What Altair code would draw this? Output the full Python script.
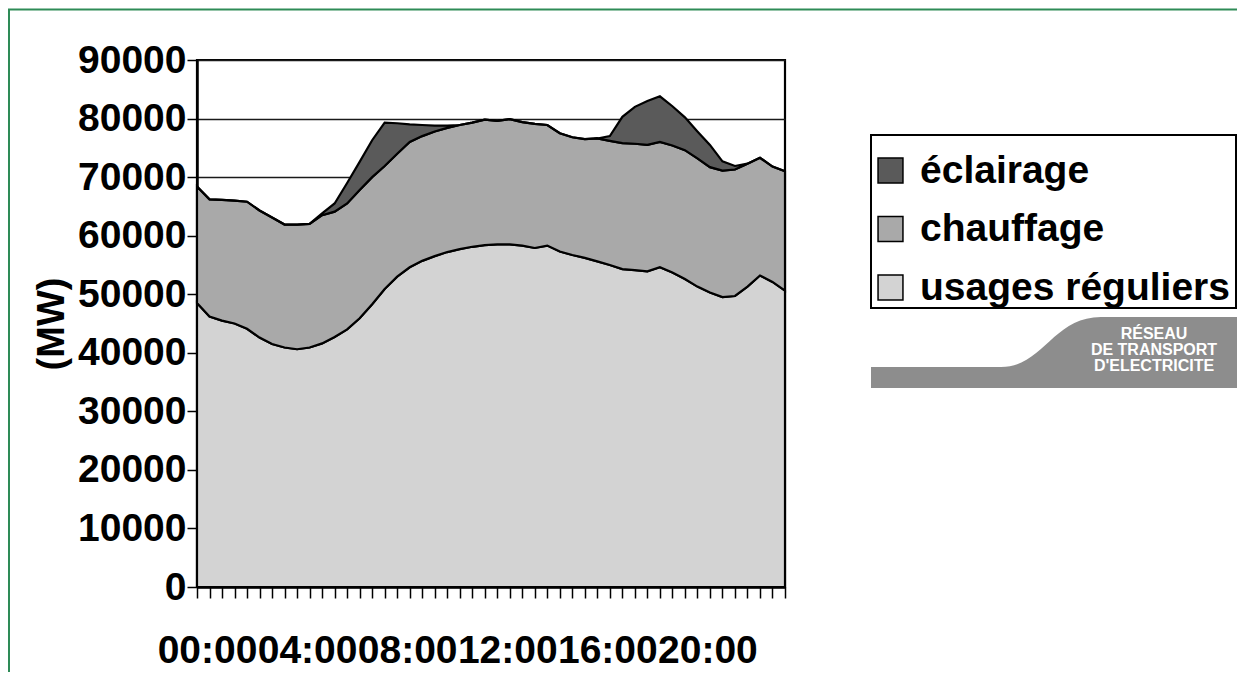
import base64
import altair as alt
import pandas as pd

# ---- data ----
hours = [i * 0.5 for i in range(48)]  # 00:00 .. 23:30, every half hour

usages = [48500, 46200, 45500, 45000, 44100, 42600, 41500, 40900, 40600, 40900,
          41600, 42700, 44000, 45900, 48300, 50900, 53000, 54600, 55700, 56500,
          57200, 57700, 58100, 58400, 58500, 58500, 58300, 57900, 58300, 57300,
          56700, 56200, 55600, 55000, 54300, 54100, 53900, 54600, 53700, 52600,
          51300, 50300, 49500, 49700, 51300, 53200, 52100, 50600]

chauffage = [19900, 20000, 20600, 21000, 21700, 21700, 21600, 21000, 21300, 21100,
             21900, 21400, 21500, 21900, 21700, 21000, 21000, 21400, 21300, 21300,
             21200, 21200, 21200, 21400, 21100, 21400, 21100, 21200, 20600, 20200,
             20100, 20300, 21000, 21200, 21500, 21600, 21600, 21400, 21700, 22000,
             21900, 21400, 21600, 21600, 21000, 20100, 19700, 20400]

eclairage = [0, 0, 0, 0, 0, 0, 0, 0, 0, 0,
             300, 1400, 3500, 4800, 6300, 7400, 5200, 3000, 1900, 1000,
             400, 0, 0, 0, 0, 0, 0, 0, 0, 0,
             0, 0, 0, 800, 4500, 6300, 7500, 7800, 6700, 5600,
             4600, 3800, 1600, 600, 0, 0, 0, 0]

series_names = ["éclairage", "chauffage", "usages réguliers"]
series_colors = ["#5a5a5a", "#a9a9a9", "#d3d3d3"]
stack_rank = {"usages réguliers": 0, "chauffage": 1, "éclairage": 2}
y_ticks = [0, 10000, 20000, 30000, 40000, 50000, 60000, 70000, 80000, 90000]
logo_lines = ["RÉSEAU", "DE TRANSPORT", "D'ELECTRICITE"]

rows = []
for h, u, c, e in zip(hours, usages, chauffage, eclairage):
    for name, v in (("usages réguliers", u), ("chauffage", c), ("éclairage", e)):
        rows.append({"h": h, "serie": name, "mw": v, "rank": stack_rank[name]})
df = pd.DataFrame(rows)

FONT = "Liberation Sans"
W, H = 588, 527
PAD = {"left": 189, "top": 52, "right": 452, "bottom": 85}

x_label_expr = ("datum.value % 4 === 0 ? (datum.value < 10 ? '0' : '') + "
                "datum.value + ':00' : ''")

area = alt.Chart(df).mark_area(
    stroke="black", strokeWidth=2.2, interpolate="linear", fillOpacity=1
).encode(
    x=alt.X("h:Q",
            scale=alt.Scale(domain=[0, 23.5], nice=False, zero=False),
            axis=alt.Axis(values=hours, labelExpr=x_label_expr, title=None,
                          grid=False, domainColor="black", domainWidth=2.5,
                          tickColor="black", tickWidth=1.5, tickSize=11,
                          labelFont=FONT, labelFontSize=39, labelFontWeight="bold",
                          labelColor="black", labelPadding=33, labelOffset=10,
                          labelOverlap=False, labelFlush=False, labelBound=False)),
    y=alt.Y("mw:Q", stack="zero",
            scale=alt.Scale(domain=[0, 90000], nice=False),
            axis=alt.Axis(values=y_ticks, format="d", title="(MW)",
                          grid=True, gridColor="#1a1a1a", gridWidth=1.5,
                          domainColor="black", domainWidth=2.5,
                          tickColor="black", tickWidth=1.5, tickSize=10,
                          labelFont=FONT, labelFontSize=39, labelFontWeight="bold",
                          labelColor="black", labelPadding=1, labelOverlap=False,
                          titleFont=FONT, titleFontSize=38, titleFontWeight="bold",
                          titleColor="black", titleX=-126, titleY=H / 2,
                          titleAlign="center", titleBaseline="bottom")),
    color=alt.Color("serie:N",
                    scale=alt.Scale(domain=series_names, range=series_colors),
                    legend=alt.Legend(title=None, orient="none", legendX=674, legendY=91,
                                      symbolType="square", symbolSize=620,
                                      symbolStrokeColor="black", symbolStrokeWidth=1.5,
                                      symbolOpacity=1,
                                      labelFont=FONT, labelFontSize=39,
                                      labelFontWeight="bold", labelColor="black",
                                      labelLimit=500, labelOffset=10, rowPadding=18.5,
                                      padding=0, zindex=1)),
    order=alt.Order("rank:Q", sort="ascending"),
)

one = alt.Data(values=[{"k": 1}])

frame_top = alt.Chart(one).mark_rule(color="#2e8b57", strokeWidth=2).encode(
    x=alt.value(-189), x2=alt.value(1040), y=alt.value(-50.5))
frame_left = alt.Chart(one).mark_rule(color="#2e8b57", strokeWidth=2).encode(
    x=alt.value(-188), y=alt.value(-50.5), y2=alt.value(H + PAD["bottom"]))

legend_box = alt.Chart(one).mark_rect(fill="white", stroke="black", strokeWidth=2).encode(
    x=alt.value(674), x2=alt.value(1039), y=alt.value(75), y2=alt.value(248))

svg = ('<svg xmlns="http://www.w3.org/2000/svg" width="366" height="73" '
       'viewBox="0 0 366 73" preserveAspectRatio="none">'
       '<path d="M0,52 L130,52 C172,52 182,2 230,2 L366,2 L366,73 L0,73 Z" '
       'fill="#8d8d8d"/></svg>')
uri = "data:image/svg+xml;base64," + base64.b64encode(svg.encode()).decode()
logo = alt.Chart(alt.Data(values=[{"u": uri}])).mark_image(
    width=366, height=73, align="left", baseline="top", aspect=False
).encode(x=alt.value(674), y=alt.value(255), url="u:N")

logo_texts = []
for i, t in enumerate(logo_lines):
    logo_texts.append(
        alt.Chart(alt.Data(values=[{"t": t}])).mark_text(
            font=FONT, fontSize=16, fontWeight="bold", color="white",
            align="center", baseline="middle"
        ).encode(x=alt.value(957), y=alt.value(274 + 16 * i), text="t:N")
    )

chart = alt.layer(frame_top, frame_left, legend_box, area, logo, *logo_texts).properties(
    width=W, height=H, padding=PAD,
    autosize=alt.AutoSizeParams(type="none"),
    background="white",
).configure_view(stroke="black", strokeWidth=2.2)

chart.save("out.html", embed_options={"renderer": "svg", "actions": False})
